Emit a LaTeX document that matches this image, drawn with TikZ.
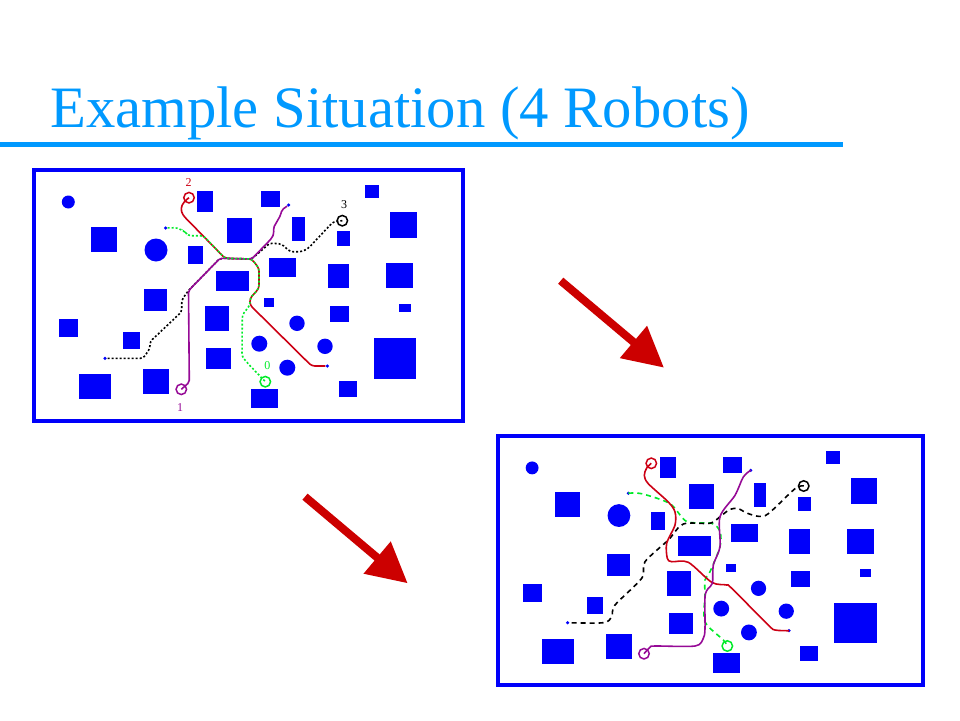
\documentclass[tikz,border=0pt]{standalone}
\usepackage{fontspec}
\setmainfont{Liberation Serif}
\usetikzlibrary{arrows.meta}
\definecolor{titleblue}{RGB}{0,153,255}
\definecolor{obstblue}{RGB}{0,0,250}
\definecolor{arrowred}{RGB}{204,0,0}
\definecolor{redpath}{RGB}{204,0,20}
\definecolor{purplepath}{RGB}{150,10,150}
\definecolor{greenpath}{RGB}{0,235,40}

% the obstacle field is the same in both panels
\newcommand{\drawfield}{
  \draw[obstblue,line width=4pt] (34,170) rectangle (463,421);
  \foreach \xa/\ya/\xb/\yb in {91/226.7/116.7/251.7, 197/191/213.3/211.7, 227/218.3/251.7/243,
      188.3/246.3/203/264.3, 215.7/271/248.7/291, 144.3/289/167.3/311, 59.3/318.7/78/337.3,
      123.3/331.7/140.3/349, 78.7/374/110.7/399.3, 142.7/369.3/169/394, 204.7/305.7/228.7/331,
      206.3/348.3/231.3/369, 261/191/280/207.3, 292/217.3/305/241.3, 365/185/379/198.3,
      390/212.3/417/238, 337/231/350/245.7, 268.7/258/296.3/277, 327.7/264/349.3/288.3,
      386/263.3/413.3/288.3, 264.3/298.3/274.3/307, 330/305.7/349.3/321.7, 399.3/303.7/410.7/312,
      373.7/337.7/416.3/378.7, 338.7/381/357.3/396.7, 251/388.7/278.3/408.3} {
    \fill[obstblue] (\xa,\ya) rectangle (\xb,\yb);
  }
  \foreach \cx/\cy/\r in {68.3/202/6.5, 156/250/11.5, 297/323.3/7.7, 259.3/343.7/8,
      325/346.3/7.7, 287.3/367.7/8} {
    \fill[obstblue] (\cx,\cy) circle[radius=\r];
  }
}

\tikzset{
  dot/.style={fill=obstblue,circle,inner sep=0pt,minimum size=3.5pt},
  robot/.style={draw,circle,inner sep=0pt,minimum size=10.5pt,line width=1.5pt},
  solidpath/.style={line width=1.6pt},
  dashpath/.style={line width=1.6pt,dash pattern=on 5pt off 4pt},
  dotpath/.style={line width=1.6pt,dash pattern=on 2pt off 2pt},
  num/.style={font=\fontsize{12}{12}\selectfont,inner sep=0pt},
  bigarrow/.style={arrowred,line width=8pt,-{Triangle[length=40pt,width=40pt]}}
}

\begin{document}
\begin{tikzpicture}[x=1pt,y=-1pt]
  \useasboundingbox (0,0) rectangle (960,720);

  \node[anchor=base west,inner sep=0pt,text=titleblue,font=\fontsize{58.7}{60}\selectfont] (title) at (50,127) {Example Situation (4 Robots)};
  \coordinate (ruleL) at (0,144.5);
  \coordinate (ruleR) at (843,144.5);
  \draw[titleblue,line width=5pt] (ruleL) -- (ruleR);

  % first panel
  \drawfield
  \node[robot,draw=greenpath] (aR0) at (265.3,381.7) {};
  \node[robot,draw=purplepath] (aR1) at (181.3,389.3) {};
  \node[robot,draw=redpath] (aR2) at (189,197.7) {};
  \node[robot,draw=black] (aR3) at (342.3,220.7) {};
  \node[dot] (aG0) at (165.7,228) {};
  \node[dot] (aG1) at (288.7,205) {};
  \node[dot] (aG2) at (327.3,366) {};
  \node[dot] (aG3) at (105,358.3) {};
  \node[num,text=greenpath] (aN0) at (267.3,365.7) {0};
  \node[num,text=purplepath] (aN1) at (180,407.7) {1};
  \node[num,text=redpath] (aN2) at (188.7,182.3) {2};
  \node[num,text=black] (aN3) at (344,204.3) {3};

  \draw[dotpath,rounded corners=3pt] (aR3.center) -- (333.3,221.7) -- (308.3,248.3) -- (301.7,251.7) -- (290,251.7) -- (281.7,244) -- (270,243) -- (251.7,259) -- (220,258.3) -- (188.3,290.7) -- (181.7,300) -- (181.7,311.7) -- (150,341.7) -- (150,348.3) -- (143.3,358.3) -- (aG3);
  \draw[solidpath,redpath,rounded corners=3pt] (aR2.center) -- (184,201.7) -- (180.7,208.3) -- (182.7,215) -- (225,258.3) -- (251.7,259) -- (259,268.3) -- (259,288.3) -- (250,298.3) -- (250,305) -- (311.7,366) -- (aG2);
  \draw[solidpath,purplepath,rounded corners=2pt] (aR1.center) -- (189.3,382.3) -- (188.5,290.7) -- (220,258.3) -- (251.7,259) -- (271.7,238.3) -- (274,233.3) -- (273.3,228) -- (280.7,215) -- (281.7,210) -- (aG1);
  \draw[dotpath,greenpath,rounded corners=3pt] (aG0) -- (176.7,227.7) -- (185,231.7) -- (188.3,235.7) -- (203.3,235.7) -- (225,258.3) -- (251.7,259) -- (259,268.3) -- (259,288.3) -- (250,298.3) -- (250,305) -- (242.3,315) -- (242,356.7) -- (250,365.7) -- (aR0.center);

  % second panel
  \begin{scope}[xshift=464.5pt,yshift=-267.3pt,xscale=0.99,yscale=0.993]
    \drawfield
  \end{scope}
  \node[robot,draw=greenpath] (bR0) at (727.3,646) {};
  \node[robot,draw=purplepath] (bR1) at (644,653.7) {};
  \node[robot,draw=redpath] (bR2) at (651.3,463.3) {};
  \node[robot,draw=black] (bR3) at (803.7,486) {};
  \node[dot] (bG0) at (628.3,493.3) {};
  \node[dot] (bG1) at (750.7,470.3) {};
  \node[dot] (bG2) at (789,630.7) {};
  \node[dot] (bG3) at (567.7,622.7) {};

  \draw[dashpath,greenpath] plot[smooth,tension=.5] coordinates {(bG0) (641.7,493.7) (670,503.7) (686.7,521.5) (711.7,523.3) (720,531.7) (720,546.7) (710,571.7) (705,580) (705,596) (705,621.7) (723.3,640) (bR0.center)};
  \draw[dashpath] plot[smooth,tension=.5] coordinates {(bR3.center) (795,488.7) (768.3,513.7) (758.3,516.3) (746.7,513) (738.3,508.7) (730,509.3) (720,516.7) (710,523.3) (683.3,524) (668.3,540) (645,561.7) (641.7,578.3) (615,605) (611.7,616.7) (603.3,622.7) (bG3)};
  \draw[solidpath,redpath] plot[smooth,tension=.5] coordinates {(bR2.center) (646.7,468) (644.3,475.3) (648.3,483.7) (668.3,502) (675,512) (675,525) (666.7,543.3) (667.3,558.3) (671.7,561.7) (688.3,562.3) (711.7,582.3) (726.7,585) (731.7,588.3) (768.3,625) (775,630) (bG2)};
  \draw[solidpath,purplepath] plot[smooth,tension=.5] coordinates {(bR1.center) (650,647.3) (655,646) (695,646) (703.3,638.3) (705,628.3) (705,596.7) (708.3,588.3) (712.5,583) (713.3,565) (720,546.7) (720,516.7) (735,495.3) (743.3,477) (bG1)};

  % arrows between the panels
  \coordinate (arrAs) at (560.7,280.7);
  \coordinate (arrAe) at (664,367.7);
  \coordinate (arrBs) at (305,496.7);
  \coordinate (arrBe) at (407.7,583.3);
  \draw[bigarrow] (arrAs) -- (arrAe);
  \draw[bigarrow] (arrBs) -- (arrBe);
\end{tikzpicture}
\end{document}
